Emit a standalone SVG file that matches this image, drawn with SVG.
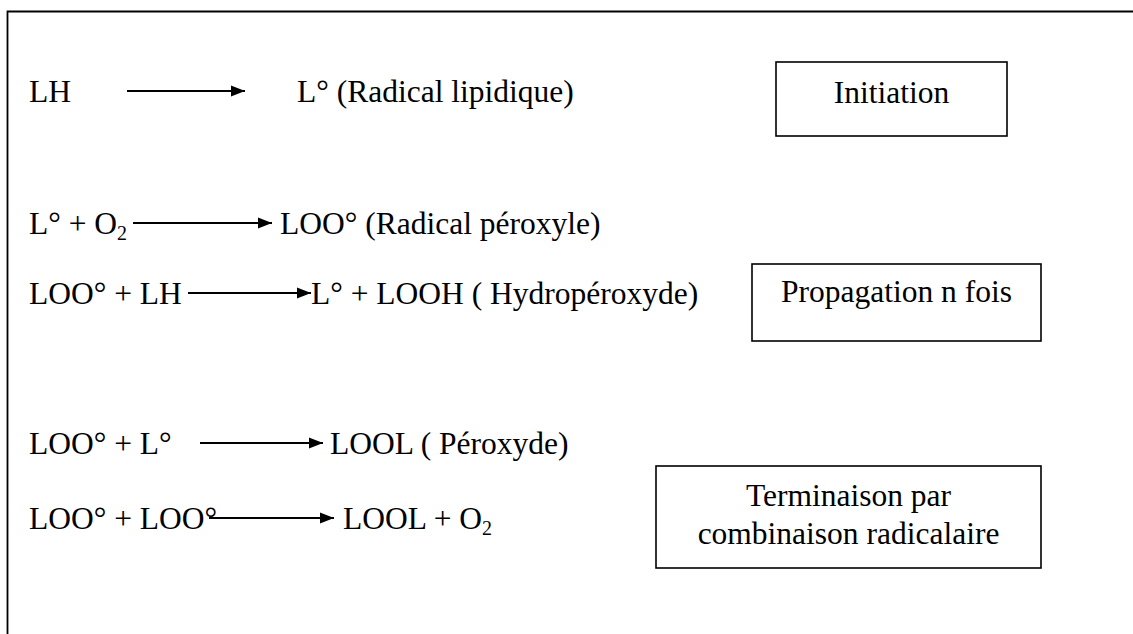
<svg xmlns="http://www.w3.org/2000/svg" width="1133" height="634" viewBox="0 0 1133 634">
  <style>
    text { font-family: "Liberation Serif", "Times New Roman", serif; font-size: 31.5px; fill: #000; }
    .box { fill: #fff; stroke: #000; stroke-width: 1.6; }
    .frame { fill: none; stroke: #000; stroke-width: 1.8; }
    .arrow { stroke: #000; stroke-width: 2; fill: none; marker-end: url(#head); }
    .c { text-anchor: middle; }
  </style>
  <defs>
    <marker id="head" markerUnits="userSpaceOnUse" markerWidth="15" markerHeight="12" refX="14" refY="6" orient="auto">
      <path d="M0,0.5 L14,6 L0,11.5 z" fill="#000"/>
    </marker>
  </defs>
  <rect width="1133" height="634" fill="#fff"/>
  <path class="frame" d="M7.5,634 V11.5 H1133"/>

  <g id="connectors">
    <line class="arrow" x1="127" y1="91" x2="245" y2="91"/>
    <line class="arrow" x1="133" y1="223" x2="272" y2="223"/>
    <line class="arrow" x1="188" y1="293" x2="311" y2="293"/>
    <line class="arrow" x1="200" y1="443" x2="323" y2="443"/>
    <line class="arrow" x1="209" y1="518" x2="334" y2="518"/>
  </g>

  <g id="lh"><text x="29" y="102">LH</text></g>
  <g id="l-radical"><text x="297" y="102">L° (Radical lipidique)</text></g>

  <g id="l-o2"><text x="29" y="234">L° + O<tspan font-size="20px" dy="6">2</tspan></text></g>
  <g id="loo-radical"><text x="280" y="234">LOO° (Radical péroxyle)</text></g>

  <g id="loo-lh"><text x="29" y="304">LOO° + LH</text></g>
  <g id="l-looh"><text x="311" y="304">L° + LOOH ( Hydropéroxyde)</text></g>

  <g id="loo-l"><text x="29" y="454">LOO° + L°</text></g>
  <g id="lool-peroxyde"><text x="330" y="454">LOOL ( Péroxyde)</text></g>

  <g id="loo-loo"><text x="29" y="529">LOO° + LOO°</text></g>
  <g id="lool-o2"><text x="343" y="529">LOOL + O<tspan font-size="20px" dy="6">2</tspan></text></g>

  <g id="initiation">
    <rect class="box" x="776" y="62" width="231" height="74"/>
    <text class="c" x="891.5" y="103">Initiation</text>
  </g>
  <g id="propagation">
    <rect class="box" x="752" y="264" width="289" height="77"/>
    <text class="c" x="896.5" y="302">Propagation n fois</text>
  </g>
  <g id="terminaison">
    <rect class="box" x="656" y="466" width="385" height="102"/>
    <text class="c" x="848.5" y="506">Terminaison par</text>
    <text class="c" x="848.5" y="544">combinaison radicalaire</text>
  </g>
</svg>
